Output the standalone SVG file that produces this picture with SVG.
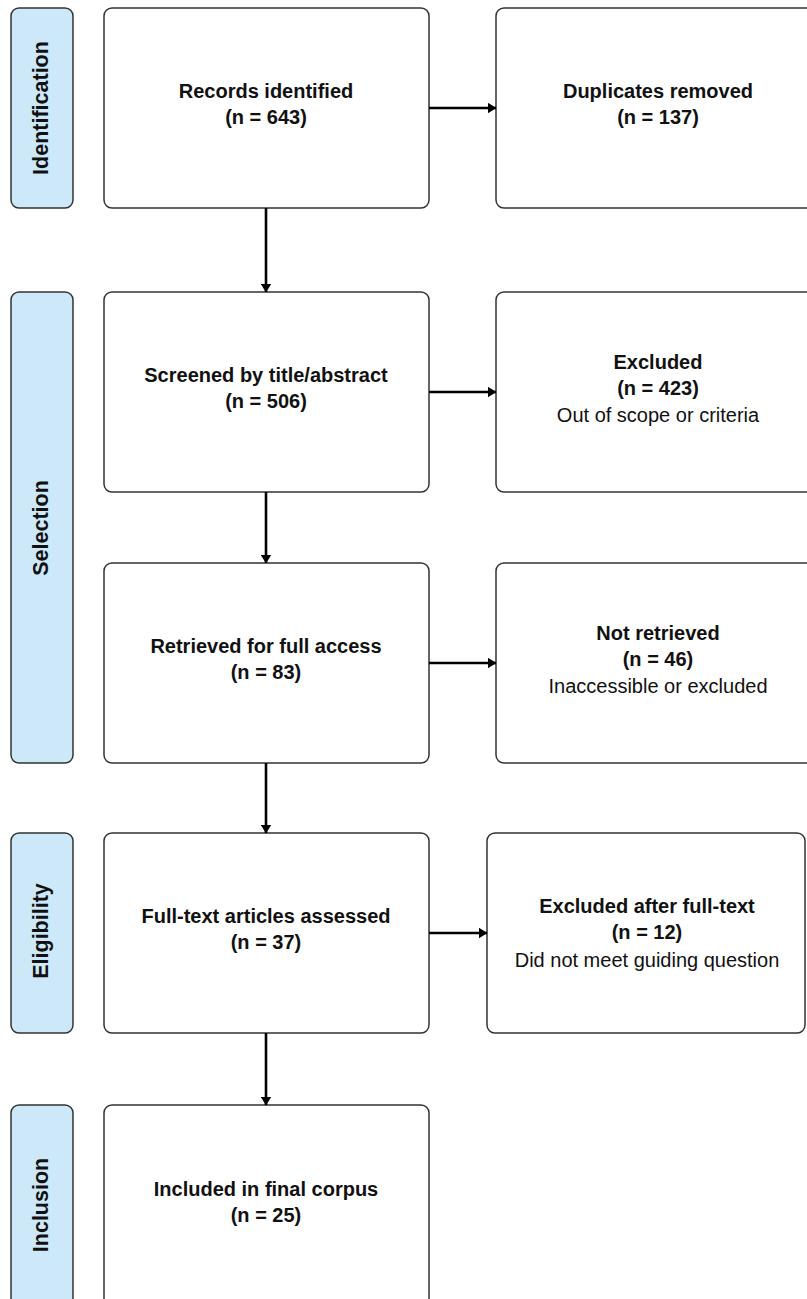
<svg xmlns="http://www.w3.org/2000/svg" width="807" height="1299" viewBox="0 0 807 1299">
<style>
.phase{fill:#cde8f8;stroke:#333;stroke-width:1.5}
.box{fill:#fff;stroke:#333;stroke-width:1.5}
.pt{font-family:"Liberation Sans",Arial,sans-serif;font-weight:bold;font-size:21.5px;fill:#111;text-anchor:middle}
.b{font-family:"Liberation Sans",Arial,sans-serif;font-weight:bold;font-size:20px;fill:#111;text-anchor:middle}
.r{font-family:"Liberation Sans",Arial,sans-serif;font-size:20px;fill:#111;text-anchor:middle}
.c{stroke:#000;stroke-width:2.6;fill:none;marker-end:url(#ah)}
</style>
<defs>
<marker id="ah" viewBox="0 0 9 11" refX="8.5" refY="5.5" markerWidth="9" markerHeight="11" markerUnits="userSpaceOnUse" orient="auto">
<path d="M0,0 L9,5.5 L0,11 z" fill="#000"/>
</marker>
</defs>
<rect width="807" height="1299" fill="#fff"/>
<g id="phase-identification"><rect class="phase" x="11" y="8" width="62" height="200" rx="8"/><text class="pt" transform="translate(48,108) rotate(-90)">Identification</text></g>
<g id="phase-selection"><rect class="phase" x="11" y="292" width="62" height="471" rx="8"/><text class="pt" transform="translate(48,528) rotate(-90)">Selection</text></g>
<g id="phase-eligibility"><rect class="phase" x="11" y="833" width="62" height="200" rx="8"/><text class="pt" transform="translate(48,931) rotate(-90)">Eligibility</text></g>
<g id="phase-inclusion"><rect class="phase" x="11" y="1105" width="62" height="220" rx="8"/><text class="pt" transform="translate(48,1205) rotate(-90)">Inclusion</text></g>

<g id="records"><rect class="box" x="104" y="8" width="325" height="200" rx="8"/><text class="b" x="266" y="98">Records identified</text><text class="b" x="266" y="124">(n = 643)</text></g>
<g id="duplicates"><rect class="box" x="496" y="8" width="325" height="200" rx="8"/><text class="b" x="658" y="98">Duplicates removed</text><text class="b" x="658" y="124">(n = 137)</text></g>
<g id="screened"><rect class="box" x="104" y="292" width="325" height="200" rx="8"/><text class="b" x="266" y="382">Screened by title/abstract</text><text class="b" x="266" y="408">(n = 506)</text></g>
<g id="excluded"><rect class="box" x="496" y="292" width="325" height="200" rx="8"/><text class="b" x="658" y="369">Excluded</text><text class="b" x="658" y="395">(n = 423)</text><text class="r" x="658" y="422">Out of scope or criteria</text></g>
<g id="retrieved"><rect class="box" x="104" y="563" width="325" height="200" rx="8"/><text class="b" x="266" y="653">Retrieved for full access</text><text class="b" x="266" y="679">(n = 83)</text></g>
<g id="not-retrieved"><rect class="box" x="496" y="563" width="325" height="200" rx="8"/><text class="b" x="658" y="640">Not retrieved</text><text class="b" x="658" y="666">(n = 46)</text><text class="r" x="658" y="693">Inaccessible or excluded</text></g>
<g id="fulltext"><rect class="box" x="104" y="833" width="325" height="200" rx="8"/><text class="b" x="266" y="923">Full-text articles assessed</text><text class="b" x="266" y="949">(n = 37)</text></g>
<g id="excluded-fulltext"><rect class="box" x="487" y="833" width="318" height="200" rx="8"/><text class="b" x="647" y="913">Excluded after full-text</text><text class="b" x="647" y="939">(n = 12)</text><text class="r" x="647" y="967">Did not meet guiding question</text></g>
<g id="included"><rect class="box" x="104" y="1105" width="325" height="220" rx="8"/><text class="b" x="266" y="1196">Included in final corpus</text><text class="b" x="266" y="1222">(n = 25)</text></g>

<g id="connectors">
<line class="c" x1="429" y1="108" x2="496" y2="108"/>
<line class="c" x1="429" y1="392" x2="496" y2="392"/>
<line class="c" x1="429" y1="663" x2="496" y2="663"/>
<line class="c" x1="429" y1="933" x2="487" y2="933"/>
<line class="c" x1="266" y1="208" x2="266" y2="292"/>
<line class="c" x1="266" y1="492" x2="266" y2="563"/>
<line class="c" x1="266" y1="763" x2="266" y2="833"/>
<line class="c" x1="266" y1="1033" x2="266" y2="1105"/>
</g>
</svg>
